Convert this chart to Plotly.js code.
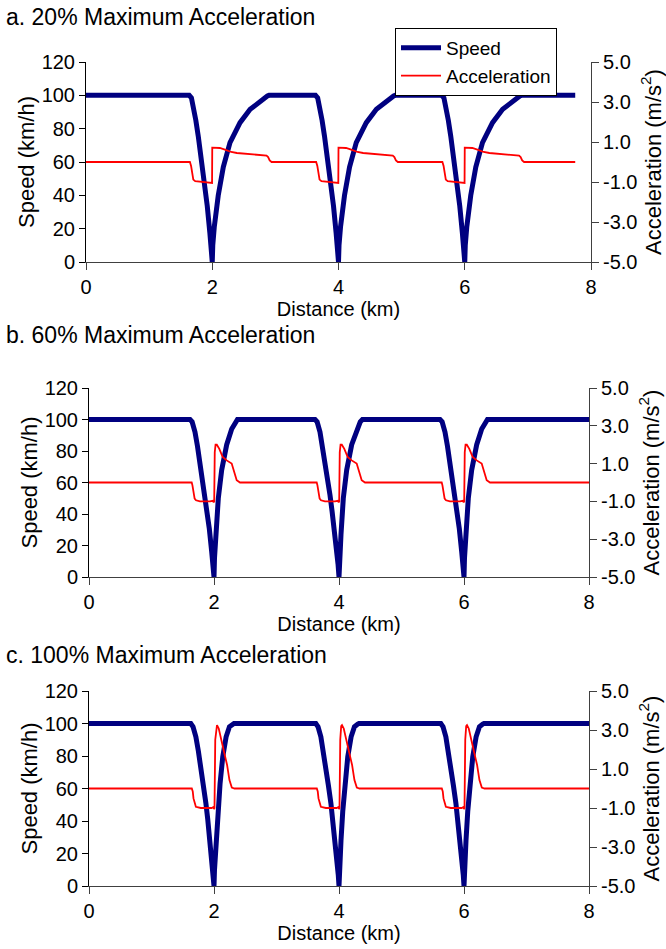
<!DOCTYPE html>
<html>
<head>
<meta charset="utf-8">
<script src="https://cdn.plot.ly/plotly-3.0.1.min.js"></script>
<style>html,body{margin:0;padding:0;background:#fff;}#chart{width:666px;height:949px;}</style>
</head>
<body>
<div id="chart"></div>
<script>
// ---------- data ----------
var panelTitles = ["a. 20% Maximum Acceleration", "b. 60% Maximum Acceleration", "c. 100% Maximum Acceleration"];
var distTicks = [0, 2, 4, 6, 8];
var speedTicks = [0, 20, 40, 60, 80, 100, 120];
var accTicks = [-5, -3, -1, 1, 3, 5];
var accTickText = ["-5.0", "-3.0", "-1.0", "1.0", "3.0", "5.0"];

// Panel a (20%)
var aSpeedX = [0,
  1.635,1.67,1.70,1.74,1.778,1.82,1.857,1.89,1.921,1.962,1.985,2.0,2.008,2.032,2.095,2.175,2.281,2.44,2.6,2.757,2.873,2.9,
  3.635,3.67,3.70,3.74,3.778,3.82,3.857,3.89,3.921,3.962,3.985,4.0,4.008,4.032,4.095,4.175,4.281,4.44,4.6,4.757,4.873,4.9,
  5.635,5.67,5.70,5.74,5.778,5.82,5.857,5.89,5.921,5.962,5.985,6.0,6.008,6.032,6.095,6.175,6.281,6.44,6.6,6.757,6.873,6.9,
  7.75];
var aSpeedY = [100,
  100,98.5,93.6,85,75.6,64,53.6,44,33.6,17.6,8,0,10,21,40,57,71.6,83.6,91.6,96.6,99.6,100,
  100,98.5,93.6,85,75.6,64,53.6,44,33.6,17.6,8,0,10,21,40,57,71.6,83.6,91.6,96.6,99.6,100,
  100,98.5,93.6,85,75.6,64,53.6,44,33.6,17.6,8,0,10,21,40,57,71.6,83.6,91.6,96.6,99.6,100,
  100];
var aAccX = [0,
  1.646,1.665,1.68,1.70,1.73,1.8,1.9,1.98,1.997,2.0,2.12,2.2,2.3,2.39,2.545,2.7,2.86,2.885,2.91,2.94,
  3.646,3.665,3.68,3.70,3.73,3.8,3.9,3.98,3.997,4.0,4.12,4.2,4.3,4.39,4.545,4.7,4.86,4.885,4.91,4.94,
  5.646,5.665,5.68,5.70,5.73,5.8,5.9,5.98,5.997,6.0,6.12,6.2,6.3,6.39,6.545,6.7,6.86,6.885,6.91,6.94,
  7.75];
var aAccY = [0,
  0,-0.2,-0.6,-0.88,-0.96,-0.98,-1.0,-1.05,-1.05,0.72,0.70,0.62,0.5,0.45,0.40,0.36,0.32,0.25,0.08,0,
  0,-0.2,-0.6,-0.88,-0.96,-0.98,-1.0,-1.05,-1.05,0.72,0.70,0.62,0.5,0.45,0.40,0.36,0.32,0.25,0.08,0,
  0,-0.2,-0.6,-0.88,-0.96,-0.98,-1.0,-1.05,-1.05,0.72,0.70,0.62,0.5,0.45,0.40,0.36,0.32,0.25,0.08,0,
  0];

// Panel b (60%)
var bSpeedX = [0,
  1.616,1.65,1.696,1.736,1.776,1.816,1.856,1.89,1.925,1.963,1.985,2.0,2.008,2.032,2.069,2.123,2.203,2.283,2.34,2.375,
  3.616,3.65,3.696,3.736,3.776,3.816,3.856,3.89,3.925,3.963,3.985,4.0,4.008,4.032,4.069,4.123,4.203,4.283,4.34,4.375,
  5.616,5.65,5.696,5.736,5.776,5.816,5.856,5.89,5.925,5.963,5.985,6.0,6.008,6.032,6.069,6.123,6.203,6.283,6.34,6.375,
  8];
var bSpeedY = [100,
  100,98.5,92,83,73,62.5,52,41.5,30.7,16,8,0,12,27,50,68,84,94,98.5,100,
  100,98.5,92,83,73,62.5,52,41.5,30.7,16,8,0,12,27,50,68,84,94,98.5,100,
  100,98.5,92,83,73,62.5,52,41.5,30.7,16,8,0,12,27,50,68,84,94,98.5,100,
  100];
var bAccX = [0,
  1.643,1.655,1.669,1.69,1.712,1.776,1.936,1.98,1.995,2.003,2.012,2.025,2.045,2.085,2.139,2.203,2.283,2.32,2.363,2.416,
  3.643,3.655,3.669,3.69,3.712,3.776,3.936,3.98,3.995,4.003,4.012,4.025,4.045,4.085,4.139,4.203,4.283,4.32,4.363,4.416,
  5.643,5.655,5.669,5.69,5.712,5.776,5.936,5.98,5.995,6.003,6.012,6.025,6.045,6.085,6.139,6.203,6.283,6.32,6.363,6.416,
  8];
var bAccY = [0,
  0,-0.15,-0.5,-0.85,-0.94,-1.0,-1.0,-0.97,-1.05,-1.0,1.6,2.0,2.0,1.78,1.35,1.17,1.0,0.64,0.12,0,
  0,-0.15,-0.5,-0.85,-0.94,-1.0,-1.0,-0.97,-1.05,-1.0,1.6,2.0,2.0,1.78,1.35,1.17,1.0,0.64,0.12,0,
  0,-0.15,-0.5,-0.85,-0.94,-1.0,-1.0,-0.97,-1.05,-1.0,1.6,2.0,2.0,1.78,1.35,1.17,1.0,0.64,0.12,0,
  0];

// Panel c (100%)
var cSpeedX = [0,
  1.629,1.665,1.71,1.75,1.79,1.83,1.871,1.9,1.925,1.968,1.988,2.0,2.008,2.032,2.06,2.097,2.14,2.194,2.247,2.3,2.32,
  3.629,3.665,3.71,3.75,3.79,3.83,3.871,3.9,3.925,3.968,3.988,4.0,4.008,4.032,4.06,4.097,4.14,4.194,4.247,4.3,4.32,
  5.629,5.665,5.71,5.75,5.79,5.83,5.871,5.9,5.925,5.968,5.988,6.0,6.008,6.032,6.06,6.097,6.14,6.194,6.247,6.3,6.32,
  8];
var cSpeedY = [100,
  100,98,91.8,83,73.3,62,50.7,41,32.2,15.8,7,0,10,28,46,63,79.5,91.8,98,99.6,100,
  100,98,91.8,83,73.3,62,50.7,41,32.2,15.8,7,0,10,28,46,63,79.5,91.8,98,99.6,100,
  100,98,91.8,83,73.3,62,50.7,41,32.2,15.8,7,0,10,28,46,63,79.5,91.8,98,99.6,100,
  100];
var cAccX = [0,
  1.645,1.66,1.672,1.71,1.79,1.963,1.99,2.0,2.008,2.02,2.035,2.048,2.076,2.113,2.166,2.21,2.247,2.285,2.328,
  3.645,3.66,3.672,3.71,3.79,3.963,3.99,4.0,4.008,4.02,4.035,4.048,4.076,4.113,4.166,4.21,4.247,4.285,4.328,
  5.645,5.66,5.672,5.71,5.79,5.963,5.99,6.0,6.008,6.02,6.035,6.048,6.076,6.113,6.166,6.21,6.247,6.285,6.328,
  8];
var cAccY = [0,
  0,-0.15,-0.51,-0.94,-1.0,-1.0,-0.95,-1.05,-1.0,2.5,3.2,3.25,3.08,2.48,1.8,1.2,0.43,0.05,0,
  0,-0.15,-0.51,-0.94,-1.0,-1.0,-0.95,-1.05,-1.0,2.5,3.2,3.25,3.08,2.48,1.8,1.2,0.43,0.05,0,
  0,-0.15,-0.51,-0.94,-1.0,-1.0,-0.95,-1.05,-1.0,2.5,3.2,3.25,3.08,2.48,1.8,1.2,0.43,0.05,0,
  0];

// ---------- styling / layout ----------
var W = 666, H = 949;
var FONT = "Arial, 'Liberation Sans', sans-serif";
var SPEED_COLOR = "#000080", ACC_COLOR = "#FF0000";

function px(x){ return x / W; }
function py(y){ return 1 - y / H; }

var panels = [
  {sx: aSpeedX, sy: aSpeedY, ax: aAccX, ay: aAccY, xd: [86, 591], yd: [62, 262], titleY: 17},
  {sx: bSpeedX, sy: bSpeedY, ax: bAccX, ay: bAccY, xd: [89, 589], yd: [388, 577], titleY: 335},
  {sx: cSpeedX, sy: cSpeedY, ax: cAccX, ay: cAccY, xd: [89, 589], yd: [691, 886], titleY: 655}
];

var traces = [];
var layout = {
  width: W, height: H,
  margin: {l: 0, r: 0, t: 0, b: 0, autoexpand: false},
  paper_bgcolor: "#fff", plot_bgcolor: "rgba(0,0,0,0)",
  font: {family: FONT, size: 20, color: "#000"},
  showlegend: true,
  legend: {
    x: px(395), y: py(28), xanchor: "left", yanchor: "top",
    bgcolor: "#fff", bordercolor: "#000", borderwidth: 1,
    font: {family: FONT, size: 19, color: "#000"},
    itemwidth: 40, tracegroupgap: 0
  },
  annotations: []
};

panels.forEach(function(p, i){
  var n = i + 1;
  var xa = n === 1 ? "x" : "x" + n;
  var yl = "y" + (2 * n - 1 === 1 ? "" : (2 * n - 1));
  var yr = "y" + (2 * n);
  var xKey = n === 1 ? "xaxis" : "xaxis" + n;
  var ylKey = 2 * n - 1 === 1 ? "yaxis" : "yaxis" + (2 * n - 1);
  var yrKey = "yaxis" + (2 * n);

  traces.push({
    x: p.sx, y: p.sy, xaxis: xa, yaxis: yl, type: "scatter", mode: "lines",
    name: "Speed", showlegend: n === 1,
    line: {color: SPEED_COLOR, width: 5}, hoverinfo: "skip"
  });
  traces.push({
    x: p.ax, y: p.ay, xaxis: xa, yaxis: yr, type: "scatter", mode: "lines",
    name: "Acceleration", showlegend: n === 1,
    line: {color: ACC_COLOR, width: 1.8}, hoverinfo: "skip"
  });

  var dom = [py(p.yd[1]), py(p.yd[0])];
  layout[xKey] = {
    domain: [px(p.xd[0]), px(p.xd[1])], anchor: yl, range: [0, 8],
    tickmode: "array", tickvals: distTicks, ticktext: distTicks.map(String),
    showline: true, linecolor: "#404040", linewidth: 1,
    ticks: "outside", ticklen: 7, tickcolor: "#404040",
    showgrid: false, zeroline: false,
    tickfont: {family: FONT, size: 20},
    title: {text: "Distance (km)", font: {family: FONT, size: 20}, standoff: 0},
    automargin: false
  };
  layout[ylKey] = {
    domain: dom, anchor: xa, range: [0, 120],
    tickmode: "array", tickvals: speedTicks, ticktext: speedTicks.map(String),
    showline: true, linecolor: "#000", linewidth: 1,
    ticks: "outside", ticklen: 6, tickcolor: "#000",
    showgrid: false, zeroline: false,
    tickfont: {family: FONT, size: 20},
    title: {text: "Speed (km/h)", font: {family: FONT, size: 22}, standoff: 0},
    automargin: false
  };
  layout[yrKey] = {
    domain: dom, anchor: xa, overlaying: yl, side: "right", range: [-5, 5],
    tickmode: "array", tickvals: accTicks, ticktext: accTickText,
    showline: true, linecolor: "#404040", linewidth: 1,
    ticks: "outside", ticklen: 7, tickcolor: "#404040",
    showgrid: false, zeroline: false,
    tickfont: {family: FONT, size: 20},
    title: {text: "Acceleration (m/s<sup>2</sup>)", font: {family: FONT, size: 22}, standoff: 0},
    automargin: false
  };
  layout.annotations.push({
    xref: "paper", yref: "paper", x: px(4), y: py(p.titleY),
    xanchor: "left", yanchor: "middle", showarrow: false,
    text: panelTitles[i], font: {family: FONT, size: 23, color: "#000"}
  });
});

Plotly.newPlot("chart", traces, layout, {staticPlot: true, displayModeBar: false});
</script>
</body>
</html>
